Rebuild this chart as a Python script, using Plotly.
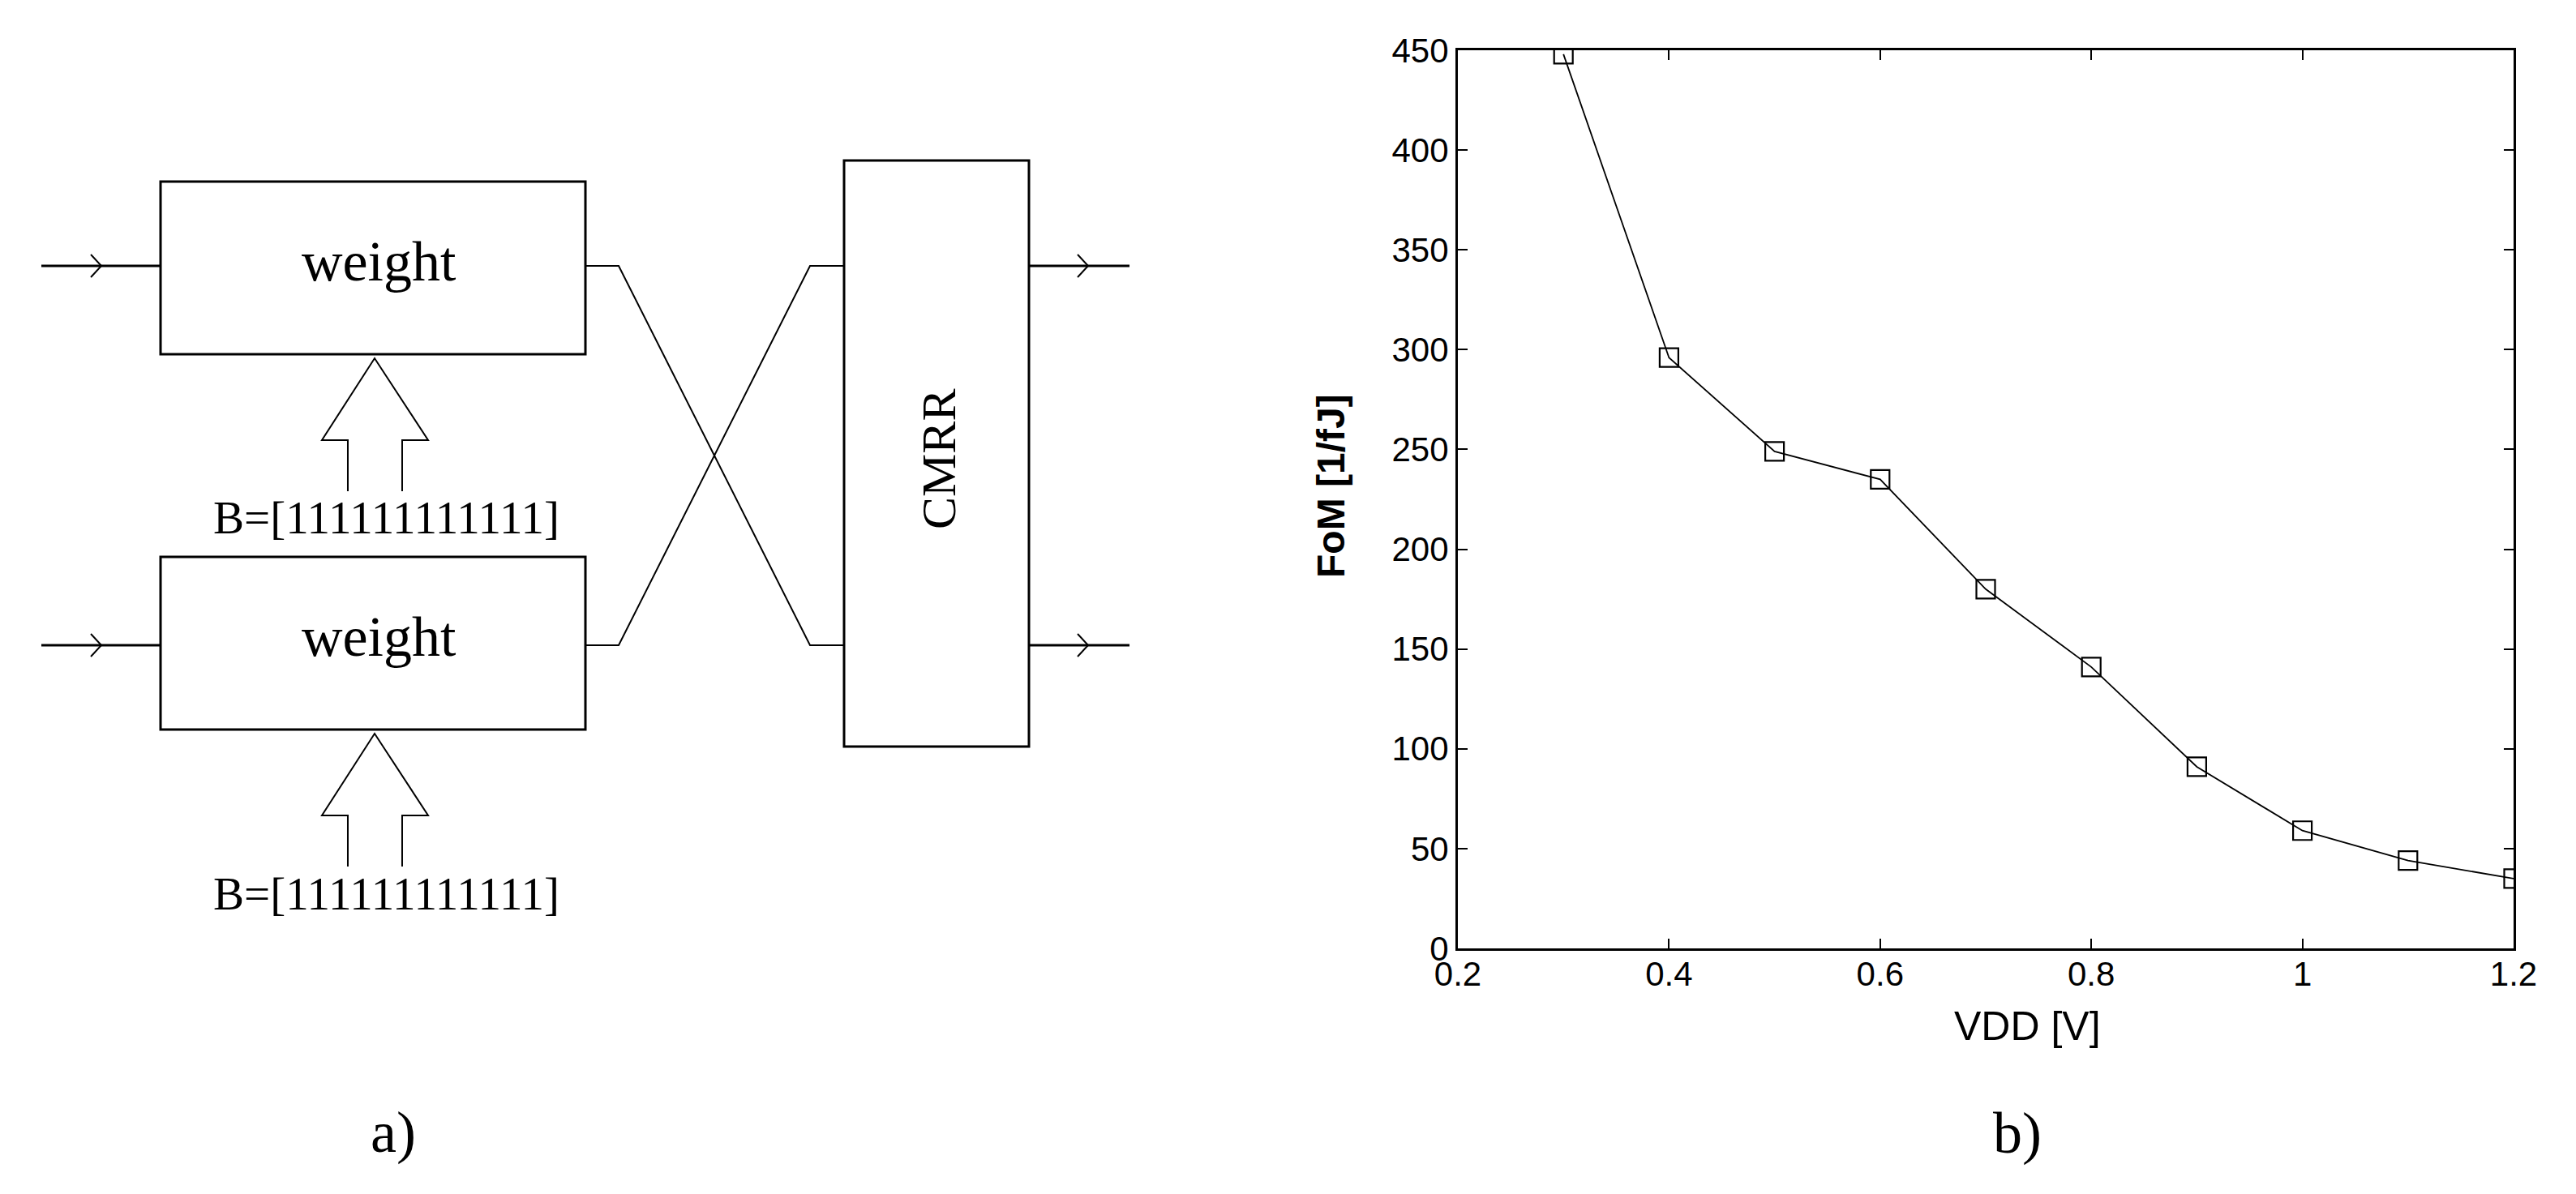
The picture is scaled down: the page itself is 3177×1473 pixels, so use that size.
import plotly.graph_objects as go

W, H = 3177, 1473
PAGE_PAD = 8  # the browser's default body margin shifts the figure

# panel b): figure of merit against supply voltage
vdd = [0.3, 0.4, 0.5, 0.6, 0.7, 0.8, 0.9, 1.0, 1.1, 1.2]
fom = [448, 296, 249, 235, 180, 141, 91, 59, 44, 35]

x_tickvals = [0.2, 0.4, 0.6, 0.8, 1.0, 1.2]
x_ticktext = ["0.2", "0.4", "0.6", "0.8", "1", "1.2"]
y_tickvals = [0, 50, 100, 150, 200, 250, 300, 350, 400, 450]

x_title = "VDD [V]"
y_title = "FoM [1/fJ]"

# panel a): block diagram, in picture pixels (x to the right, y down)
weight_boxes = [(198, 224, 722, 437), (198, 687, 722, 900)]
cmrr_box = (1041, 198, 1269, 921)
rails = [328, 796]
block_label = "weight"
mixer_label = "CMRR"
bus_label = "B=[111111111111]"
panel_labels = ["a)", "b)"]

SERIF = "Liberation Serif, Times New Roman, serif"
SANS = "Liberation Sans, Arial, sans-serif"


def px(x):
    return (x - PAGE_PAD) / W


def py(y):
    return 1 - (y - PAGE_PAD) / H


def path(points, width):
    d = "M " + " L ".join(f"{px(x):.5f},{py(y):.5f}" for x, y in points)
    return dict(type="path", xref="paper", yref="paper", path=d,
                line=dict(color="black", width=width))


def rect(box, width=3):
    x0, y0, x1, y1 = box
    return dict(type="rect", xref="paper", yref="paper",
                x0=px(x0), y0=py(y1), x1=px(x1), y1=py(y0),
                line=dict(color="black", width=width))


def chevron(x, y):
    return path([(x - 13, y - 14), (x, y), (x - 13, y + 14)], 2)


shapes = []
for box in weight_boxes:
    shapes.append(rect(box))
shapes.append(rect(cmrr_box))

for i, y in enumerate(rails):
    # inputs and outputs
    shapes.append(path([(51, y), (weight_boxes[i][0], y)], 3))
    shapes.append(chevron(125, y))
    shapes.append(path([(cmrr_box[2], y), (1393, y)], 3))
    shapes.append(chevron(1342, y))

# crossed connections between the weight blocks and CMRR
top, bot = rails
shapes.append(path([(722, top), (763, top), (999, bot), (1041, bot)], 2))
shapes.append(path([(722, bot), (763, bot), (999, top), (1041, top)], 2))

# hollow arrows carrying the bit vector into each weight block
for box in weight_boxes:
    tip = box[3] + 5
    cx = (box[0] + box[2]) / 2 + 2
    shapes.append(path([
        (cx - 33, tip + 164), (cx - 33, tip + 101), (cx - 65, tip + 101),
        (cx, tip), (cx + 66, tip + 101), (cx + 34, tip + 101),
        (cx + 34, tip + 164),
    ], 2))

annotations = []


def text(s, x, y, size, font=SERIF, angle=0, bold=False):
    annotations.append(dict(
        text=f"<b>{s}</b>" if bold else s, xref="paper", yref="paper",
        x=px(x), y=py(y), xanchor="center", yanchor="middle",
        showarrow=False, textangle=angle,
        font=dict(family=font, size=size, color="black"),
    ))


for box in weight_boxes:
    text(block_label, 468, (box[1] + box[3]) / 2 - 8, 70)
    text(bus_label, 476, box[3] + 202, 57)
text(mixer_label, 1158, 567, 60, angle=-90)
text(panel_labels[0], 485, 1397, 72)
text(panel_labels[1], 2488, 1398, 72)
text(x_title, 2500, 1266, 50, font=SANS)
text(y_title, 1641, 600, 48, font=SANS, angle=-90, bold=True)

fig = go.Figure()
fig.add_trace(go.Scatter(
    x=vdd, y=fom, mode="lines+markers",
    line=dict(color="black", width=1.8),
    marker=dict(symbol="square-open", size=23, color="black",
                line=dict(color="black", width=2.2)),
    showlegend=False,
))

axis_common = dict(
    showline=True, linecolor="black", linewidth=3, mirror="ticks",
    ticks="inside", ticklen=12, tickwidth=2, tickcolor="black",
    showgrid=False, zeroline=False, automargin=False,
    tickfont=dict(family=SANS, size=42, color="black"),
)
fig.update_xaxes(
    domain=[px(1798), px(3100)], range=[0.2, 1.2],
    tickvals=x_tickvals, ticktext=x_ticktext, ticklabelstandoff=-7,
    **axis_common,
)
fig.update_yaxes(
    domain=[py(1170), py(62)], range=[0, 450],
    tickvals=y_tickvals, **axis_common,
)

fig.update_layout(
    template="none",
    width=W, height=H, margin=dict(l=0, r=0, t=0, b=0, pad=0),
    paper_bgcolor="white", plot_bgcolor="white",
    shapes=shapes, annotations=annotations,
)

fig.write_html("out.html")
